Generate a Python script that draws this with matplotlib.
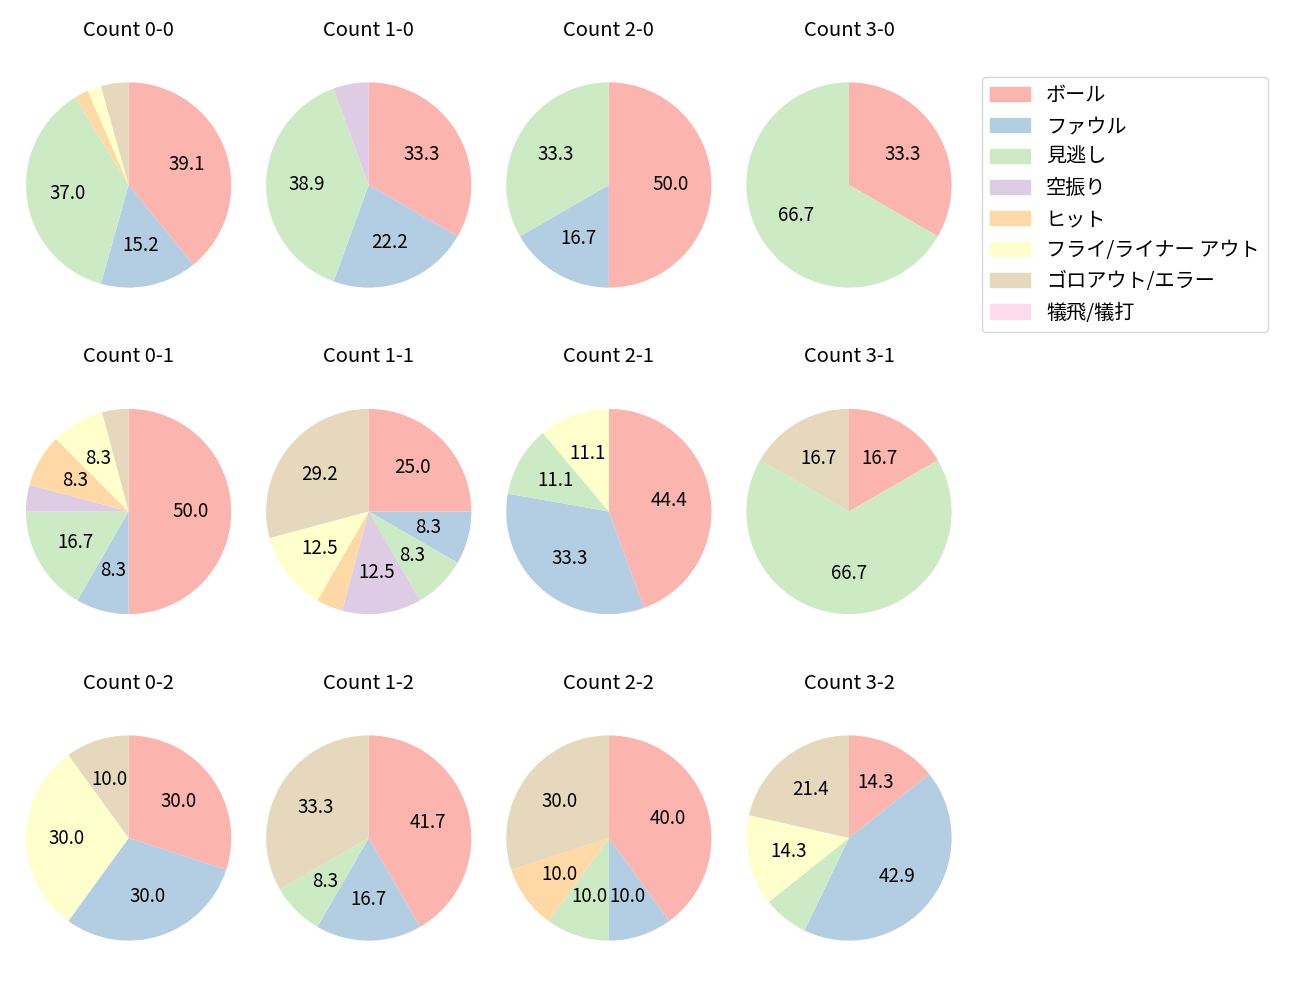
import numpy as np
import matplotlib
matplotlib.use("Agg")
import matplotlib.pyplot as plt

plt.rcParams['font.family'] = ['Noto Sans CJK JP', 'DejaVu Sans']

categories = ['ボール', 'ファウル', '見逃し', '空振り', 'ヒット',
              'フライ/ライナー アウト', 'ゴロアウト/エラー', '犠飛/犠打']
colors = ['#fbb4ae', '#b3cde3', '#ccebc5', '#decbe4', '#fed9a6',
          '#ffffcc', '#e5d8bd', '#fddaec']

# counts per pitch-count situation, in category order
count_0_0 = [18, 7, 17, 0, 1, 1, 2, 0]
count_1_0 = [6, 4, 7, 1, 0, 0, 0, 0]
count_2_0 = [3, 1, 2, 0, 0, 0, 0, 0]
count_3_0 = [1, 0, 2, 0, 0, 0, 0, 0]
count_0_1 = [12, 2, 4, 1, 2, 2, 1, 0]
count_1_1 = [6, 2, 2, 3, 1, 3, 7, 0]
count_2_1 = [4, 3, 1, 0, 0, 1, 0, 0]
count_3_1 = [1, 0, 4, 0, 0, 0, 1, 0]
count_0_2 = [3, 3, 0, 0, 0, 3, 1, 0]
count_1_2 = [5, 2, 1, 0, 0, 0, 4, 0]
count_2_2 = [4, 1, 1, 0, 1, 0, 3, 0]
count_3_2 = [2, 6, 1, 0, 0, 2, 3, 0]

titles = [['Count 0-0', 'Count 1-0', 'Count 2-0', 'Count 3-0'],
          ['Count 0-1', 'Count 1-1', 'Count 2-1', 'Count 3-1'],
          ['Count 0-2', 'Count 1-2', 'Count 2-2', 'Count 3-2']]
data = [[count_0_0, count_1_0, count_2_0, count_3_0],
        [count_0_1, count_1_1, count_2_1, count_3_1],
        [count_0_2, count_1_2, count_2_2, count_3_2]]

fig, axes = plt.subplots(3, 4, figsize=(13, 10), dpi=100)
fig.subplots_adjust(left=0.02, right=0.732, top=0.956, bottom=0.021,
                    wspace=0.17, hspace=0.158)

def fmt(p):
    return f'{p:.1f}' if p >= 8 else ''

for r in range(3):
    for c in range(4):
        ax = axes[r][c]
        vals = np.array(data[r][c], dtype=float)
        mask = vals > 0
        ax.pie(vals[mask], colors=[col for col, m in zip(colors, mask) if m],
               startangle=90, counterclock=False, autopct=fmt,
               textprops={'fontsize': 13.5})
        ax.set_title(titles[r][c], fontsize=14.5)
        ax.set_xlim(-1.0, 1.0)
        ax.set_ylim(-1.0, 1.0)
        ax.set_aspect('equal', adjustable='datalim')

handles = [plt.Rectangle((0, 0), 1, 1, color=col) for col in colors]
fig.legend(handles, categories, loc='upper left', borderaxespad=0,
           bbox_to_anchor=(0.755, 0.923), fontsize=14.5)

fig.savefig('out.png')
